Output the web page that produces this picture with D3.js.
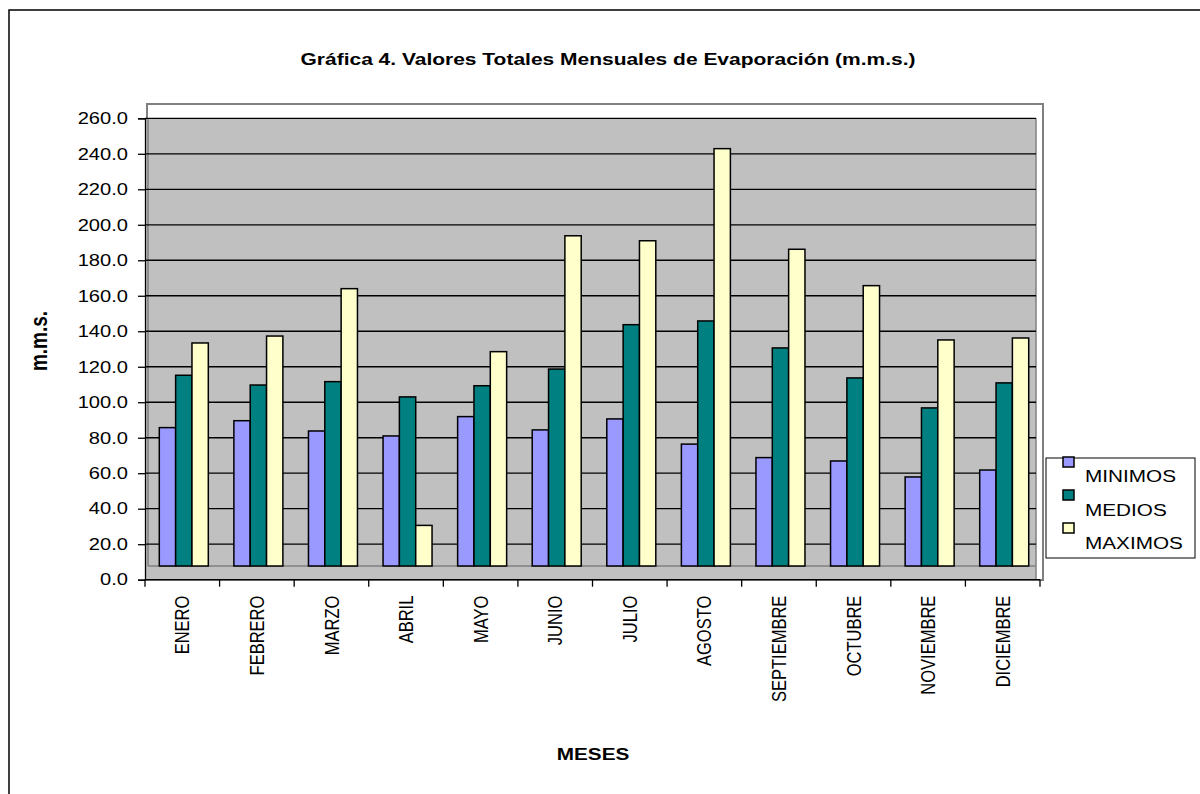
<!DOCTYPE html>
<html><head><meta charset="utf-8">
<script src="https://cdnjs.cloudflare.com/ajax/libs/d3/7.8.5/d3.min.js"></script>
<style>body{margin:0;background:#fff}svg{display:block;font-family:"Liberation Sans",Arial,sans-serif}</style>
</head><body>
<svg id="c" width="1200" height="794"></svg>
<script>
const months = ["ENERO","FEBRERO","MARZO","ABRIL","MAYO","JUNIO","JULIO","AGOSTO","SEPTIEMBRE","OCTUBRE","NOVIEMBRE","DICIEMBRE"];
const seriesNames = ["MINIMOS","MEDIOS","MAXIMOS"];
const minimos = [85.7, 89.6, 83.8, 81.0, 91.9, 84.4, 90.6, 76.4, 68.8, 66.9, 57.9, 61.8];
const medios  = [115.2, 109.7, 111.6, 103.0, 109.3, 118.7, 143.7, 145.8, 130.6, 113.7, 96.8, 110.9];
const maximos = [133.4, 137.3, 164.0, 30.6, 128.5, 193.8, 191.0, 242.9, 186.2, 165.7, 135.1, 136.2];
const yTicks = d3.range(0, 261, 20);
const colors = ["#9999FF", "#008080", "#FFFFCC"];

(function(){
const SX = 1.22; // horizontal glyph stretch seen in the reference
const seriesVals = [minimos, medios, maximos];
const svg = d3.select("#c");

// outer chart frame
svg.append("rect").attr("x",9).attr("y",10).attr("width",1250).attr("height",850)
  .attr("fill","none").attr("stroke","#000").attr("stroke-width",1.5);

const pLeft = 145, pRight = 1040, pTop = 118.3, pBottom = 579.7, floorY = 566, wallRight = 1036;
const y = d3.scaleLinear().domain([0, 260]).range([pBottom, pTop]);
const x0 = d3.scaleBand().domain(months).range([pLeft, pRight]).padding(0);
const x1 = d3.scaleBand().domain(seriesNames).range([14.3, 63.3]).padding(0);

// plot area border
svg.append("rect").attr("x",147).attr("y",104).attr("width",896).attr("height",476)
  .attr("fill","none").attr("stroke","#808080").attr("stroke-width",2);
// walls
svg.append("rect").attr("x",pLeft).attr("y",pTop).attr("width",wallRight-pLeft).attr("height",pBottom-pTop)
  .attr("fill","#C0C0C0");
svg.append("line").attr("x1",148).attr("x2",148).attr("y1",pTop).attr("y2",floorY)
  .attr("stroke","#808080").attr("stroke-width",1.5);
svg.append("line").attr("x1",wallRight).attr("x2",wallRight).attr("y1",pTop).attr("y2",pBottom)
  .attr("stroke","#808080").attr("stroke-width",1.5);
svg.append("line").attr("x1",148).attr("x2",wallRight).attr("y1",floorY).attr("y2",floorY)
  .attr("stroke","#808080").attr("stroke-width",1.5);

// gridlines
svg.append("g").selectAll("line").data(yTicks.filter(d=>d>0)).join("line")
  .attr("x1",pLeft).attr("x2",wallRight).attr("y1",d=>y(d)).attr("y2",d=>y(d))
  .attr("stroke","#000").attr("stroke-width",1.3);

// bars
const groups = svg.append("g").selectAll("g").data(months).join("g")
  .attr("transform", m => `translate(${x0(m)},0)`);
groups.selectAll("rect").data((m,i) => seriesNames.map((s,j) => ({s, v: seriesVals[j][i], j}))).join("rect")
  .attr("x", d => x1(d.s)).attr("width", x1.bandwidth())
  .attr("y", d => y(d.v)).attr("height", d => floorY - y(d.v))
  .attr("fill", d => colors[d.j]).attr("stroke","#000").attr("stroke-width",1.5);

// y axis
const yAxis = d3.axisLeft(y).tickValues(yTicks).tickFormat(d3.format(".1f")).tickSize(7).tickPadding(10);
const ga = svg.append("g").attr("transform",`translate(${pLeft},0)`).call(yAxis);
ga.select(".domain").attr("stroke","#000").attr("stroke-width",1.3);
ga.selectAll(".tick line").attr("stroke","#000").attr("stroke-width",1.3);
ga.selectAll("text").attr("font-size",16.5).attr("fill","#000").attr("font-family","Liberation Sans, Arial")
  .attr("x", -17/SX).attr("transform",`scale(${SX},1)`);

// x axis
const gx = svg.append("g").attr("transform",`translate(0,${pBottom})`);
gx.append("line").attr("x1",pLeft).attr("x2",pRight).attr("stroke","#000").attr("stroke-width",1.3);
gx.selectAll("line.t").data(d3.range(0, months.length+1)).join("line").attr("class","t")
  .attr("x1", i => pLeft + i*x0.step()).attr("x2", i => pLeft + i*x0.step())
  .attr("y1",0).attr("y2",7).attr("stroke","#000").attr("stroke-width",1.3);
gx.selectAll("text").data(months).join("text")
  .attr("transform", m => `translate(${x0(m)+x0.bandwidth()/2},16) scale(${SX},1) rotate(-90)`)
  .attr("text-anchor","end").attr("dy","0.35em").attr("font-size",16.5).text(m=>m);

// titles
function stretched(x, yy, txt, size, bold, anchor, rot) {
  const t = svg.append("text").attr("transform",`translate(${x},${yy}) scale(${SX},1)` + (rot ? " rotate(-90)" : ""))
    .attr("text-anchor",anchor).attr("font-size",size).text(txt);
  if (bold) t.attr("font-weight","bold");
  return t;
}
stretched(608, 65, "Gráfica 4. Valores Totales Mensuales de Evaporación (m.m.s.)", 17.2, true, "middle", false);
stretched(47, 341, "m.m.s.", 19, true, "middle", true);
stretched(593, 760, "MESES", 17, true, "middle", false);

// legend
const lg = svg.append("g");
lg.append("rect").attr("x",1046).attr("y",458).attr("width",149).attr("height",100)
  .attr("fill","#fff").attr("stroke","#000").attr("stroke-width",1);
seriesNames.forEach((s,i) => {
  lg.append("rect").attr("x",1063).attr("y",457+i*33).attr("width",11).attr("height",10)
    .attr("fill",colors[i]).attr("stroke","#000").attr("stroke-width",1.5);
  stretched(1085, 482+i*33.5, s, 17, false, "start", false);
});
})();
</script>
</body></html>
